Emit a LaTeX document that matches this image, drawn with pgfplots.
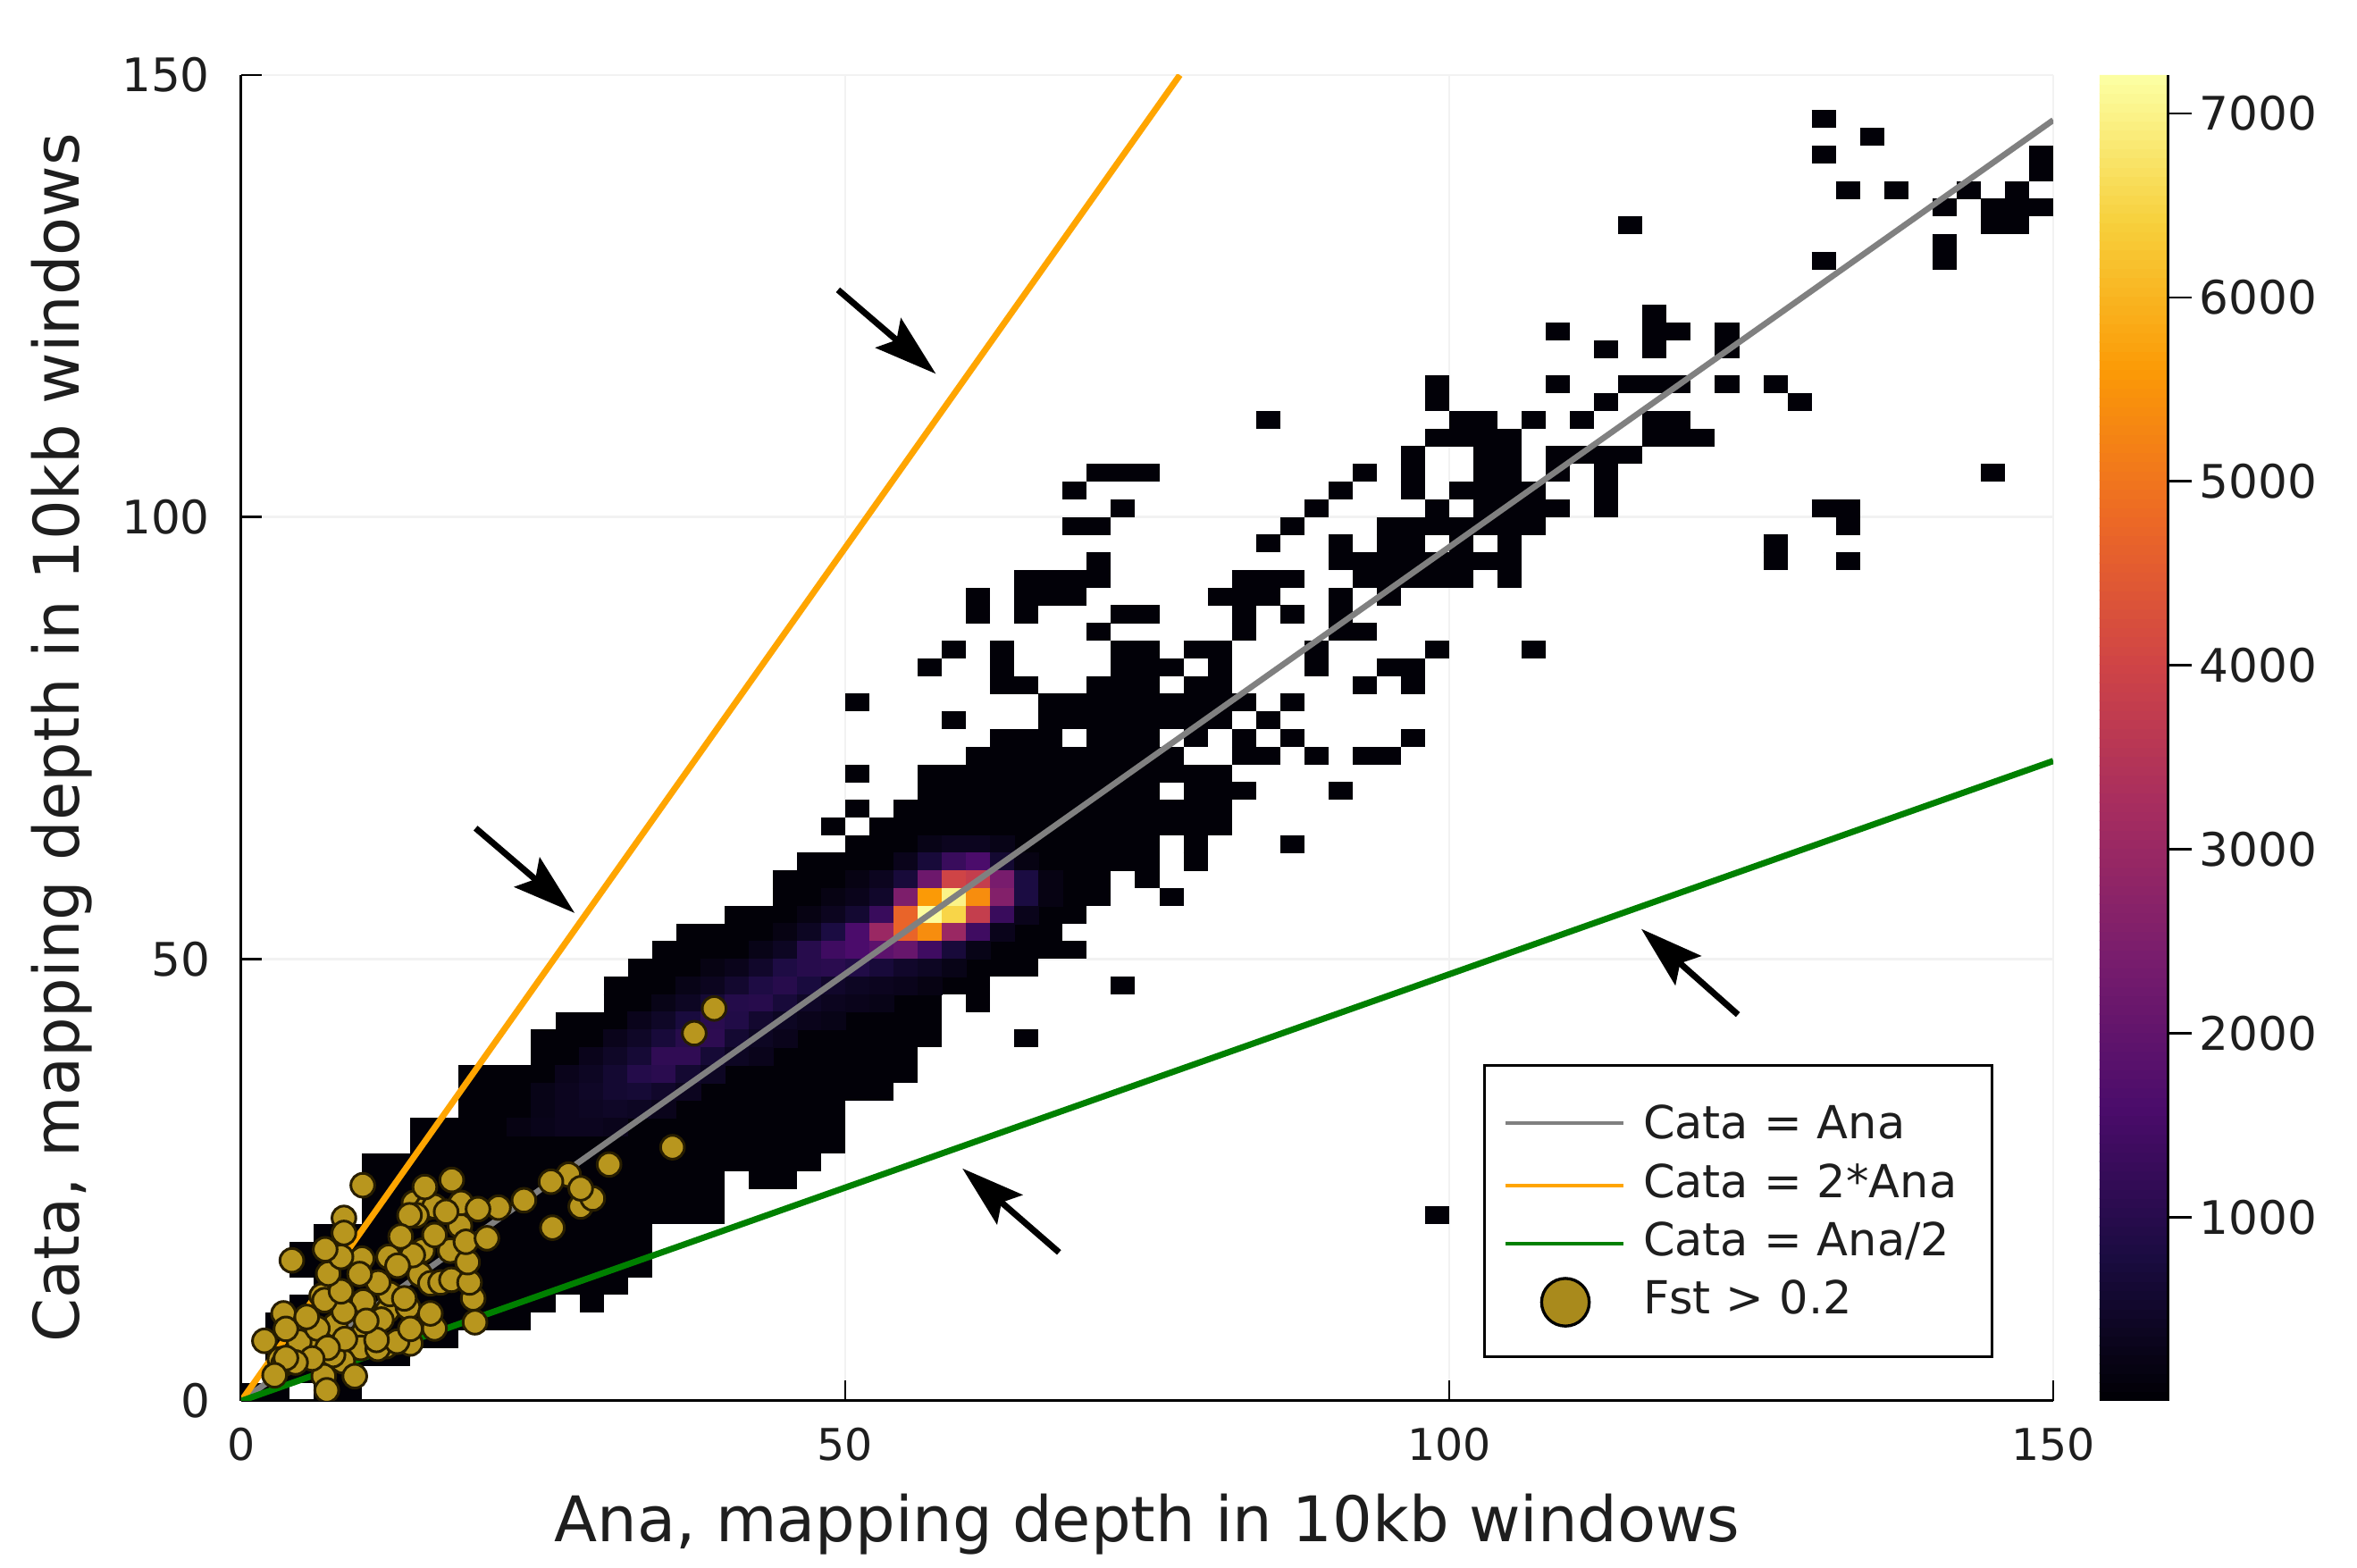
\documentclass[border=0pt]{standalone}
\usepackage{pgfplots}
\pgfplotsset{compat=1.18}
\usepackage{fontspec}
\setmainfont{DejaVu Sans}
\usetikzlibrary{arrows.meta}
\definecolor{infbase}{RGB}{2,1,8}
\definecolor{lgray}{RGB}{128,128,128}
\definecolor{lorange}{RGB}{255,165,0}
\definecolor{lgreen}{RGB}{0,128,0}
\definecolor{gold}{RGB}{184,150,30}
\definecolor{goldedge}{RGB}{40,30,0}
\definecolor{txt}{RGB}{30,30,30}
\begin{document}
\begin{tikzpicture}
\useasboundingbox (-81pt,-56.1pt) rectangle (710.4pt,470.4pt);
\begin{axis}[
  scale only axis, width=608.4pt, height=445.2pt,
  xmin=0, xmax=150, ymin=0, ymax=150,
  clip marker paths=true,
  axis lines=left, axis line style={-, black, line width=0.9pt},
  xtick={0,50,100,150}, ytick={0,50,100,150},
  tick align=inside, major tick length=7pt, tick style={black, line width=0.8pt},
  grid=major, grid style={draw=black!5, line width=0.8pt},
  tick label style={text=txt},
  xticklabel style={font=\fontsize{14.7}{17}\selectfont, yshift=-5.5pt},
  yticklabel style={font=\fontsize{15.5}{17}\selectfont, xshift=-7pt},
  /pgf/number format/assume math mode=true,
  xlabel={Ana, mapping depth in 10kb windows},
  ylabel={Cata, mapping depth in 10kb windows},
  xlabel style={at={(axis description cs:0.5,0)}, anchor=center, yshift=-41.5pt, font=\fontsize{21.1}{25}\selectfont, text=txt},
  ylabel style={at={(axis description cs:0,0.5)}, anchor=center, yshift=60.2pt, font=\fontsize{21.1}{25}\selectfont, text=txt},
  unbounded coords=jump,
  colormap={inferno}{rgb255(0)=(0,0,4); rgb255(1)=(27,12,66); rgb255(2)=(75,12,107); rgb255(3)=(120,28,109); rgb255(4)=(165,44,96); rgb255(5)=(207,68,70); rgb255(6)=(237,105,37); rgb255(7)=(251,154,6); rgb255(8)=(247,208,60); rgb255(9)=(252,255,164)},
  point meta min=1, point meta max=7209,
  colorbar sampled,
  colorbar style={
    at={(parent axis.north east)}, anchor=north west, xshift=7pt,
    width=23.1pt, height=445.2pt,
    samples=145,
    axis lines=box,
    ytick={1000,2000,3000,4000,5000,6000,7000},
    ytick pos=right, xmajorticks=false,
    /pgf/number format/1000 sep={}, /pgf/number format/assume math mode=true,
    tick align=outside, major tick length=8pt, tick style={black, line width=0.8pt},
    yticklabel style={font=\fontsize{15.5}{17}\selectfont, text=txt, xshift=-1pt},
    axis line style={draw=none},
    extra description/.code={\draw[black, line width=0.9pt] (rel axis cs:1,0) -- (rel axis cs:1,1);},
  },
  legend cell align=left,
  legend style={at={(0.6855,0.0323)}, anchor=south west, draw=black, line width=0.9pt,
    inner xsep=6.5pt, inner ysep=11.3pt, row sep=5.6pt,
    font=\fontsize{15.3}{17}\selectfont, text=txt,
    nodes={text height=11pt, text depth=3pt, inner sep=0pt},
    /tikz/column 1/.style={column sep=6pt},
    /tikz/column 2/.style={nodes={text width=110.6pt, text height=11pt, text depth=3pt, inner sep=0pt}},
    /tikz/row 1/.style={nodes={text height=13.5pt}}},
]
% occupied bins, darkest level: runs of cells per row of the 2D histogram
\addplot[forget plot, infbase, line width=6.02pt, line cap=butt, line join=miter] table[row sep=\\]{
x y\\
0 1\\4 1\\nan nan\\6 1\\10 1\\nan nan\\
2 3\\10 3\\nan nan\\
2 5\\14 5\\nan nan\\
2 7\\18 7\\nan nan\\
2 9\\24 9\\nan nan\\
4 11\\26 11\\nan nan\\28 11\\30 11\\nan nan\\
6 13\\32 13\\nan nan\\
4 15\\34 15\\nan nan\\
4 17\\34 17\\nan nan\\
6 19\\34 19\\nan nan\\
10 21\\40 21\\nan nan\\98 21\\100 21\\nan nan\\
10 23\\40 23\\nan nan\\
10 25\\40 25\\nan nan\\42 25\\46 25\\nan nan\\
10 27\\48 27\\nan nan\\
14 29\\50 29\\nan nan\\
14 31\\50 31\\nan nan\\
18 33\\50 33\\nan nan\\
18 35\\54 35\\nan nan\\
18 37\\56 37\\nan nan\\
24 39\\56 39\\nan nan\\
24 41\\58 41\\nan nan\\64 41\\66 41\\nan nan\\
26 43\\58 43\\nan nan\\
30 45\\58 45\\nan nan\\60 45\\62 45\\nan nan\\
30 47\\62 47\\nan nan\\72 47\\74 47\\nan nan\\
32 49\\66 49\\nan nan\\
34 51\\70 51\\nan nan\\
36 53\\68 53\\nan nan\\
40 55\\70 55\\nan nan\\
44 57\\72 57\\nan nan\\76 57\\78 57\\nan nan\\
44 59\\72 59\\nan nan\\74 59\\76 59\\nan nan\\
46 61\\76 61\\nan nan\\78 61\\80 61\\nan nan\\
50 63\\76 63\\nan nan\\78 63\\80 63\\nan nan\\86 63\\88 63\\nan nan\\
48 65\\50 65\\nan nan\\52 65\\82 65\\nan nan\\
50 67\\52 67\\nan nan\\54 67\\82 67\\nan nan\\
56 69\\76 69\\nan nan\\78 69\\84 69\\nan nan\\90 69\\92 69\\nan nan\\
50 71\\52 71\\nan nan\\56 71\\82 71\\nan nan\\
60 73\\78 73\\nan nan\\82 73\\86 73\\nan nan\\88 73\\90 73\\nan nan\\92 73\\96 73\\nan nan\\
62 75\\68 75\\nan nan\\70 75\\76 75\\nan nan\\78 75\\80 75\\nan nan\\82 75\\84 75\\nan nan\\86 75\\88 75\\nan nan\\96 75\\98 75\\nan nan\\
58 77\\60 77\\nan nan\\66 77\\82 77\\nan nan\\84 77\\86 77\\nan nan\\
50 79\\52 79\\nan nan\\66 79\\84 79\\nan nan\\86 79\\88 79\\nan nan\\
62 81\\66 81\\nan nan\\70 81\\76 81\\nan nan\\78 81\\82 81\\nan nan\\92 81\\94 81\\nan nan\\96 81\\98 81\\nan nan\\
56 83\\58 83\\nan nan\\62 83\\64 83\\nan nan\\72 83\\78 83\\nan nan\\80 83\\82 83\\nan nan\\88 83\\90 83\\nan nan\\94 83\\98 83\\nan nan\\
58 85\\60 85\\nan nan\\62 85\\64 85\\nan nan\\72 85\\76 85\\nan nan\\78 85\\82 85\\nan nan\\88 85\\90 85\\nan nan\\98 85\\100 85\\nan nan\\106 85\\108 85\\nan nan\\
70 87\\72 87\\nan nan\\82 87\\84 87\\nan nan\\90 87\\94 87\\nan nan\\
60 89\\62 89\\nan nan\\64 89\\66 89\\nan nan\\72 89\\76 89\\nan nan\\82 89\\84 89\\nan nan\\86 89\\88 89\\nan nan\\90 89\\92 89\\nan nan\\
60 91\\62 91\\nan nan\\64 91\\70 91\\nan nan\\80 91\\86 91\\nan nan\\90 91\\92 91\\nan nan\\94 91\\96 91\\nan nan\\
64 93\\72 93\\nan nan\\82 93\\88 93\\nan nan\\92 93\\102 93\\nan nan\\104 93\\106 93\\nan nan\\
70 95\\72 95\\nan nan\\90 95\\106 95\\nan nan\\126 95\\128 95\\nan nan\\132 95\\134 95\\nan nan\\
84 97\\86 97\\nan nan\\90 97\\92 97\\nan nan\\94 97\\98 97\\nan nan\\100 97\\102 97\\nan nan\\104 97\\106 97\\nan nan\\126 97\\128 97\\nan nan\\
68 99\\72 99\\nan nan\\86 99\\88 99\\nan nan\\94 99\\108 99\\nan nan\\132 99\\134 99\\nan nan\\
72 101\\74 101\\nan nan\\88 101\\90 101\\nan nan\\98 101\\100 101\\nan nan\\102 101\\110 101\\nan nan\\112 101\\114 101\\nan nan\\130 101\\134 101\\nan nan\\
68 103\\70 103\\nan nan\\90 103\\92 103\\nan nan\\96 103\\98 103\\nan nan\\100 103\\108 103\\nan nan\\112 103\\114 103\\nan nan\\
70 105\\76 105\\nan nan\\92 105\\94 105\\nan nan\\96 105\\98 105\\nan nan\\102 105\\106 105\\nan nan\\108 105\\110 105\\nan nan\\112 105\\114 105\\nan nan\\144 105\\146 105\\nan nan\\
96 107\\98 107\\nan nan\\102 107\\106 107\\nan nan\\108 107\\116 107\\nan nan\\
98 109\\106 109\\nan nan\\116 109\\122 109\\nan nan\\
84 111\\86 111\\nan nan\\100 111\\104 111\\nan nan\\106 111\\108 111\\nan nan\\110 111\\112 111\\nan nan\\116 111\\120 111\\nan nan\\
98 113\\100 113\\nan nan\\112 113\\114 113\\nan nan\\128 113\\130 113\\nan nan\\
98 115\\100 115\\nan nan\\108 115\\110 115\\nan nan\\114 115\\120 115\\nan nan\\122 115\\124 115\\nan nan\\126 115\\128 115\\nan nan\\
112 119\\114 119\\nan nan\\116 119\\118 119\\nan nan\\122 119\\124 119\\nan nan\\
108 121\\110 121\\nan nan\\116 121\\120 121\\nan nan\\122 121\\124 121\\nan nan\\
116 123\\118 123\\nan nan\\
130 129\\132 129\\nan nan\\140 129\\142 129\\nan nan\\
140 131\\142 131\\nan nan\\
114 133\\116 133\\nan nan\\144 133\\148 133\\nan nan\\
140 135\\142 135\\nan nan\\144 135\\150 135\\nan nan\\
132 137\\134 137\\nan nan\\136 137\\138 137\\nan nan\\142 137\\144 137\\nan nan\\146 137\\148 137\\nan nan\\
148 139\\150 139\\nan nan\\
130 141\\132 141\\nan nan\\148 141\\150 141\\nan nan\\
134 143\\136 143\\nan nan\\
130 145\\132 145\\nan nan\\
};
% bins with higher counts (x, y, count)
\addplot[forget plot, scatter, only marks, mark=square*, mark size=2.97pt,
  mark options={xscale=1.366, line width=0.15pt},
  scatter/use mapped color={draw=mapped color, fill=mapped color},
  point meta=explicit] table[meta=v, row sep=\\]{
x y v\\
57 63 250\\59 63 350\\61 63 350\\63 63 250\\
55 61 300\\57 61 700\\59 61 1300\\61 61 1600\\63 61 600\\65 61 200\\
51 59 200\\53 59 350\\55 59 700\\57 59 2200\\59 59 4000\\61 59 3800\\63 59 2400\\65 59 800\\67 59 200\\
49 57 200\\51 57 300\\53 57 500\\55 57 2500\\57 57 5600\\59 57 7000\\61 57 5400\\63 57 2600\\65 57 800\\67 57 200\\
47 55 200\\49 55 350\\51 55 600\\53 55 1300\\55 55 4700\\57 55 7150\\59 55 6500\\61 55 3800\\63 55 1300\\65 55 300\\
45 53 200\\47 53 400\\49 53 800\\51 53 1600\\53 53 3000\\55 53 4700\\57 53 5400\\59 53 3000\\61 53 1400\\63 53 300\\
43 51 250\\45 51 400\\47 51 1000\\49 51 1400\\51 51 1600\\53 51 1900\\55 51 2100\\57 51 1400\\59 51 700\\61 51 250\\
39 49 200\\41 49 300\\43 49 500\\45 49 850\\47 49 1000\\49 49 1050\\51 49 900\\53 49 700\\55 49 500\\57 49 400\\59 49 250\\
37 47 250\\39 47 350\\41 47 550\\43 47 850\\45 47 1000\\47 47 750\\49 47 500\\51 47 400\\53 47 350\\55 47 300\\57 47 200\\
35 45 250\\37 45 400\\39 45 650\\41 45 950\\43 45 1000\\45 45 700\\47 45 450\\49 45 350\\51 45 300\\53 45 250\\
33 43 300\\35 43 450\\37 43 750\\39 43 1050\\41 43 900\\43 43 550\\45 43 400\\47 43 300\\49 43 250\\
31 41 300\\33 41 450\\35 41 700\\37 41 1000\\39 41 1100\\41 41 600\\43 41 400\\45 41 300\\
29 39 300\\31 39 450\\33 39 650\\35 39 1150\\37 39 1150\\39 39 650\\41 39 400\\43 39 300\\
27 37 300\\29 37 400\\31 37 600\\33 37 950\\35 37 1050\\37 37 600\\39 37 400\\
25 35 250\\27 35 350\\29 35 450\\31 35 600\\33 35 650\\35 35 500\\37 35 350\\
25 33 250\\27 33 350\\29 33 400\\31 33 450\\33 33 400\\35 33 300\\
23 31 200\\25 31 280\\27 31 350\\29 31 350\\31 31 300\\
};
\addplot[lgray, line width=2pt, line cap=butt, legend image code/.code={\draw[lgray, line width=1.2pt] (0,0) -- (39.5pt,0);}] coordinates {(0,0)(150,144.9)};
\addlegendentry{Cata = Ana}
\addplot[lorange, line width=2.1pt, line cap=butt, legend image code/.code={\draw[lorange, line width=1.2pt] (0,0) -- (39.5pt,0);}] coordinates {(0,0)(77.7,150)};
\addlegendentry{Cata = 2*Ana}
\addplot[lgreen, line width=2.1pt, line cap=butt, legend image code/.code={\draw[lgreen, line width=1.2pt] (0,0) -- (39.5pt,0);}] coordinates {(0,0)(150,72.4)};
\addlegendentry{Cata = Ana/2}
\addplot[only marks, mark=*, mark size=4pt, mark options={fill=gold, draw=goldedge, line width=0.9pt},
  legend image code/.code={\draw[draw=none] (0,0) -- (39.5pt,0); \draw[overlay, fill=gold!92!black, draw=black, line width=1pt] (20pt,0) circle (8pt);}] table[row sep=\\]{
x y\\
5.9 5.9\\3.2 4.7\\3.5 4.2\\5.2 8.6\\6.66 11.9\\14.3 22.4\\15.4 21.9\\17.3 17\\15 17\\18.1 19.8\\18.2 22.4\\16 22\\14.5 21\\
12.1 10.2\\11.6 9.2\\10.2 7.9\\9.9 6\\8.4 4.5\\7.6 5.2\\14 6.5\\13.8 10.6\\12 6.2\\11.3 5.9\\12.9 6.7\\11.2 6.9\\12.2 16.3\\
14.8 14.3\\14.2 16.5\\12.3 12.1\\13.5 11.6\\14 8.15\\16 8.2\\15.66 9.9\\15.66 13.3\\16.5 13.4\\17.4 13.7\\19.35 8.9\\19.2 11.6\\
18.9 13.4\\18.74 15.7\\18.6 18\\20.34 18.4\\25.76 19.6\\27.1 25.6\\28.1 22\\29.1 22.9\\28.1 24.05\\25.64 24.8\\23.4 22.7\\21.3 21.87\\
19.6 21.7\\13.93 21\\16 18.77\\16.96 21.4\\17.43 25\\15.2 24.2\\13.2 18.6\\12.94 15.3\\11.34 13.4\\10.1 11.25\\7.77 8.6\\4.2 8.9\\
4.8 6.7\\6.3 8.2\\10.35 9.06\\8.5 10.1\\8.58 7\\6.83 2.8\\7.08 1.2\\9.4 2.8\\7.15 6\\5.87 4.8\\4.5 4.35\\3.7 4.85\\2.76 2.9\\
3.5 9.9\\1.92 6.8\\3.7 8.15\\5.42 9.5\\6.9 11.4\\8.26 12.4\\10 16.1\\9.8 14.35\\7.2 14.4\\8.26 16.3\\6.95 17.15\\8.5 20.7\\8.5 19\\
4.19 15.9\\10.06 24.4\\30.45 26.75\\35.7 28.7\\37.5 41.6\\39.15 44.4\\
};
\addlegendentry{Fst > 0.2}
\draw[-{Stealth[length=21pt, width=13pt, inset=3.6pt]}, black, line width=2.1pt] (axis cs:49.4,125.7) -- (axis cs:57.5,116.2);
\draw[-{Stealth[length=21pt, width=13pt, inset=3.6pt]}, black, line width=2.1pt] (axis cs:19.4,64.8) -- (axis cs:27.6,55.2);
\draw[-{Stealth[length=21pt, width=13pt, inset=3.6pt]}, black, line width=2.1pt] (axis cs:123.9,43.7) -- (axis cs:115.9,53.4);
\draw[-{Stealth[length=21pt, width=13pt, inset=3.6pt]}, black, line width=2.1pt] (axis cs:67.7,16.8) -- (axis cs:59.7,26.3);
\end{axis}
\end{tikzpicture}
\end{document}
